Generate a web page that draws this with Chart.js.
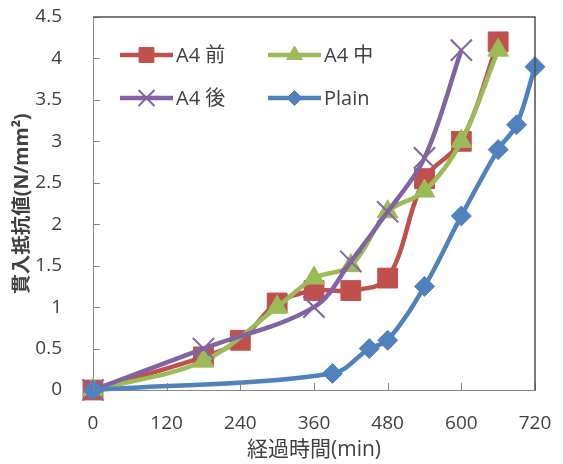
<!DOCTYPE html>
<html>
<head>
<meta charset="utf-8">
<script src="https://cdn.jsdelivr.net/npm/chart.js@4.4.0/dist/chart.umd.min.js"></script>
<style>
  html, body { margin: 0; padding: 0; background: #fff; }
  #wrap { width: 563px; height: 464px; }
</style>
</head>
<body>
<div id="wrap"><canvas id="myChart"></canvas></div>
<script>
// values
const xMinutesMae  = [0, 180, 240, 300, 360, 420, 480, 540, 600, 660];
const valuesMae    = [0, 0.4, 0.6, 1.05, 1.2, 1.2, 1.35, 2.55, 3.0, 4.2];
const xMinutesNaka = [0, 180, 300, 360, 420, 480, 540, 600, 660];
const valuesNaka   = [0, 0.35, 1.0, 1.35, 1.5, 2.15, 2.4, 3.0, 4.1];
const xMinutesAto  = [0, 180, 360, 420, 480, 540, 600];
const valuesAto    = [0, 0.5, 1.0, 1.55, 2.15, 2.8, 4.1];
const xMinutesPlain = [0, 390, 450, 480, 540, 600, 660, 690, 720];
const valuesPlain   = [0, 0.2, 0.5, 0.6, 1.25, 2.1, 2.9, 3.2, 3.9];
const seriesLabels = ['A4 前', 'A4 中', 'A4 後', 'Plain'];

const FONT = '"Open Sans", "Noto Sans CJK JP", sans-serif';
const TEXT_COLOR = '#404040';
const AXIS_COLOR = '#868686';

function toPoints(xs, ys) {
  return xs.map((x, i) => ({x: x, y: ys[i]}));
}

const styles = [
  {color: '#C0504D', pointStyle: 'rect', radius: 14, pointBorderWidth: 1},
  {color: '#9BBB59', pointStyle: 'triangle', radius: 12, pointBorderWidth: 1},
  {color: '#8064A2', pointStyle: 'crossRot', radius: 15, pointBorderWidth: 2},
  {color: '#4F81BD', pointStyle: 'rectRot', radius: 10, pointBorderWidth: 1},
];
const rawData = [
  toPoints(xMinutesMae, valuesMae),
  toPoints(xMinutesNaka, valuesNaka),
  toPoints(xMinutesAto, valuesAto),
  toPoints(xMinutesPlain, valuesPlain),
];

const datasets = rawData.map((d, i) => ({
  label: seriesLabels[i],
  data: d,
  borderColor: styles[i].color,
  backgroundColor: styles[i].color,
  borderWidth: 4.5,
  pointStyle: styles[i].pointStyle,
  pointRadius: styles[i].radius,
  pointHoverRadius: styles[i].radius,
  pointBorderWidth: styles[i].pointBorderWidth,
  tension: 0.35,
  clip: false,
  order: 4 - i, // later series on top, like the original
}));

// inside tick marks, top/right frame and the in-plot legend
const framePlugin = {
  id: 'frame',
  afterDraw(chart) {
    const ctx = chart.ctx;
    const a = chart.chartArea;
    const xs = chart.scales.x, ys = chart.scales.y;
    ctx.save();
    ctx.strokeStyle = AXIS_COLOR;
    ctx.lineWidth = 1;
    ys.ticks.forEach(t => {
      const y = Math.round(ys.getPixelForValue(t.value)) + 0.5;
      ctx.beginPath(); ctx.moveTo(a.left, y); ctx.lineTo(a.left + 7, y); ctx.stroke();
    });
    xs.ticks.forEach(t => {
      const x = Math.round(xs.getPixelForValue(t.value)) + 0.5;
      ctx.beginPath(); ctx.moveTo(x, a.bottom); ctx.lineTo(x, a.bottom - 7); ctx.stroke();
    });
    ctx.strokeStyle = '#505050';
    ctx.lineWidth = 1.5;
    ctx.beginPath();
    ctx.moveTo(a.left, a.top); ctx.lineTo(a.right, a.top); ctx.lineTo(a.right, a.bottom);
    ctx.stroke();
    ctx.restore();
  },
  afterDatasetsDraw(chart) {
    const ctx = chart.ctx;
    const colX = [120, 268];
    const rowY = [55, 98];
    ctx.save();
    chart.data.datasets.forEach((ds, i) => {
      const x0 = colX[i % 2], y = rowY[Math.floor(i / 2)];
      ctx.strokeStyle = ds.borderColor;
      ctx.lineWidth = ds.borderWidth;
      ctx.beginPath(); ctx.moveTo(x0, y); ctx.lineTo(x0 + 53, y); ctx.stroke();
      ctx.fillStyle = ds.backgroundColor;
      ctx.lineWidth = ds.pointBorderWidth;
      Chart.helpers.drawPoint(ctx, {
        pointStyle: ds.pointStyle,
        radius: ds.pointRadius * 0.75,
        rotation: 0,
        borderWidth: ds.pointBorderWidth,
      }, x0 + 26.5, y);
      ctx.fillStyle = TEXT_COLOR;
      ctx.font = '20px ' + FONT;
      ctx.textBaseline = 'middle';
      ctx.textAlign = 'left';
      ctx.fillText(ds.label, x0 + 56, y + 1);
    });
    ctx.restore();
  }
};

const config = {
  type: 'line',
  data: {datasets: datasets},
  options: {
    responsive: true,
    maintainAspectRatio: false,
    animation: false,
    layout: {padding: {top: 17, right: 28, left: 0, bottom: 0}},
    plugins: {
      legend: {display: false},
      tooltip: {enabled: false},
    },
    scales: {
      x: {
        type: 'linear',
        min: 0,
        max: 720,
        grid: {display: false},
        border: {display: true, color: AXIS_COLOR, width: 1},
        ticks: {stepSize: 120, padding: 14, color: TEXT_COLOR, font: {family: FONT, size: 19}, maxRotation: 0},
        title: {
          display: true,
          text: '経過時間(min)',
          color: TEXT_COLOR,
          font: {family: FONT, size: 21},
          padding: {top: 0, bottom: 1},
        },
        afterFit(scale) {
          scale.height = 74;
          scale.paddingLeft = 0;
          scale.paddingRight = 0;
        },
      },
      y: {
        min: 0,
        max: 4.5,
        grid: {display: false},
        border: {display: true, color: AXIS_COLOR, width: 1},
        ticks: {
          stepSize: 0.5,
          padding: 23,
          color: TEXT_COLOR,
          font: {family: FONT, size: 19},
          callback: (v) => String(v),
        },
        title: {
          display: true,
          text: '貫入抵抗値(N/mm²)',
          color: TEXT_COLOR,
          font: {family: FONT, size: 19.5, weight: 'bold'},
          padding: {top: 11, bottom: 0},
        },
        afterFit(scale) {
          scale.width = 93;
          scale.paddingTop = 0;
          scale.paddingBottom = 0;
        },
      },
    },
  },
  plugins: [framePlugin],
};

const ctx = document.getElementById('myChart').getContext('2d');
const myChart = new Chart(ctx, config);
</script>
</body>
</html>
